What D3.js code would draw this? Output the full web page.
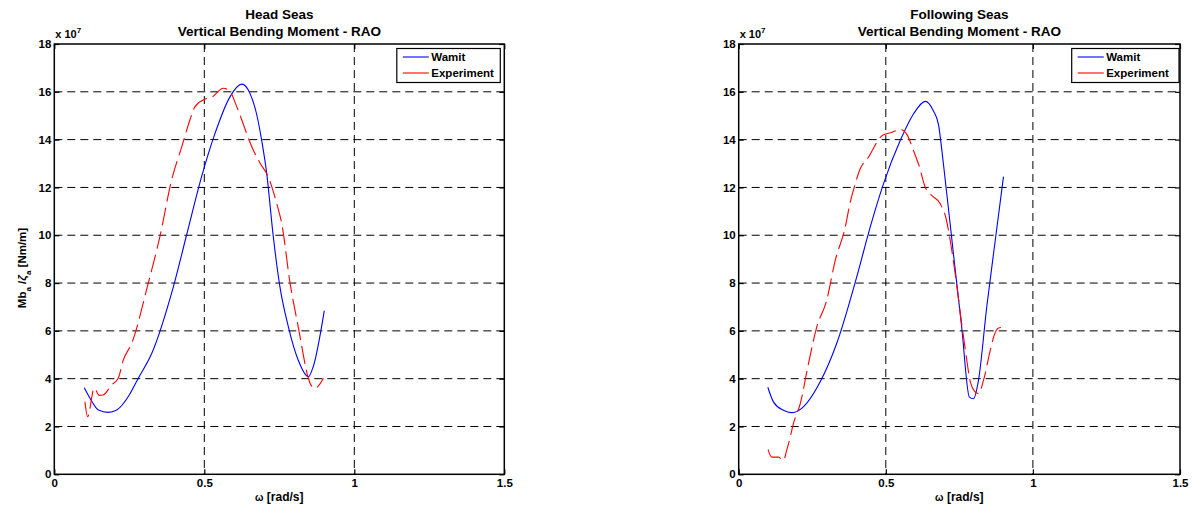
<!DOCTYPE html>
<html>
<head>
<meta charset="utf-8">
<script src="https://cdn.jsdelivr.net/npm/d3@7"></script>
<style>
  body { margin: 0; background: #fff; }
  text { font-family: "Liberation Sans", Arial, sans-serif; font-weight: bold; fill: #000; }
</style>
</head>
<body>
<svg id="chart" width="1195" height="506"></svg>
<script>
// tick values
var xTicks = [0, 0.5, 1, 1.5];
var yTicks = [0, 2, 4, 6, 8, 10, 12, 14, 16, 18];

// Head seas - Wamit
var headWamitW = [0.10, 0.119, 0.147, 0.18, 0.208, 0.25, 0.28, 0.325, 0.397, 0.441, 0.491, 0.536, 0.586, 0.625, 0.652, 0.675, 0.691, 0.708, 0.73, 0.752, 0.78, 0.813, 0.847, 0.863, 0.9];
var headWamitV = [3.62, 3.18, 2.69, 2.59, 2.69, 3.32, 4.02, 5.06, 7.85, 10.01, 12.45, 14.27, 15.8, 16.32, 15.94, 15.03, 13.99, 12.59, 9.94, 7.85, 6.18, 4.78, 4.08, 4.5, 6.85];

// Head seas - Experiment
var headExpW = [0.102, 0.111, 0.133, 0.15, 0.163, 0.191, 0.213, 0.23, 0.258, 0.313, 0.352, 0.391, 0.425, 0.452, 0.469, 0.502, 0.525, 0.563, 0.586, 0.608, 0.663, 0.686, 0.713, 0.741, 0.758, 0.786, 0.813, 0.847, 0.855, 0.87, 0.883, 0.897];
var headExpV = [3.04, 2.41, 3.6, 3.3, 3.32, 3.74, 4.02, 4.78, 5.48, 7.99, 9.94, 12.31, 13.71, 14.82, 15.38, 15.69, 15.77, 16.15, 16.01, 15.38, 13.57, 13.01, 12.45, 11.34, 10.5, 7.99, 6.18, 4.02, 3.74, 3.6, 3.74, 4.02];

// Following seas - Wamit
var followWamitW = [0.099, 0.118, 0.152, 0.18, 0.214, 0.277, 0.333, 0.401, 0.447, 0.492, 0.549, 0.594, 0.634, 0.662, 0.679, 0.696, 0.73, 0.758, 0.784, 0.798, 0.815, 0.843, 0.872, 0.9];
var followWamitV = [3.64, 3.03, 2.68, 2.58, 2.76, 3.87, 5.47, 8.25, 10.34, 12.15, 13.96, 15.07, 15.6, 15.2, 14.64, 12.97, 9.21, 6.15, 3.23, 3.16, 3.93, 6.99, 9.78, 12.45];

// Following seas - Experiment
var followExpW = [0.1, 0.112, 0.135, 0.152, 0.163, 0.175, 0.186, 0.209, 0.237, 0.265, 0.299, 0.328, 0.362, 0.379, 0.396, 0.413, 0.441, 0.46, 0.475, 0.492, 0.52, 0.549, 0.571, 0.594, 0.613, 0.634, 0.656, 0.685, 0.705, 0.719, 0.736, 0.758, 0.769, 0.789, 0.8, 0.815, 0.832, 0.855, 0.868, 0.883, 0.9];
var followExpV = [1.03, 0.72, 0.72, 0.58, 1.0, 1.56, 2.12, 2.95, 4.62, 6.15, 7.27, 8.94, 10.33, 11.38, 12.15, 12.78, 13.26, 13.68, 14.0, 14.2, 14.3, 14.43, 14.23, 13.54, 12.91, 12.01, 11.67, 11.32, 10.69, 9.78, 8.38, 6.29, 5.32, 3.79, 3.5, 3.37, 3.93, 5.18, 5.8, 6.12, 6.15];

var svg = d3.select("#chart");

function zip(w, v) {
  return w.map(function(d, i) { return {w: d, v: v[i]}; });
}

function drawPanel(p) {
  var x = d3.scaleLinear().domain([0, 1.5]).range([p.left, p.right]);
  var y = d3.scaleLinear().domain([0, 18]).range([p.bottom, p.top]);
  var g = svg.append("g");

  // grid lines (dashed)
  g.selectAll(".hgrid")
    .data(yTicks.filter(function(d) { return d > 0 && d < 18; }))
    .enter().append("line")
      .attr("x1", p.left).attr("x2", p.right)
      .attr("y1", function(d) { return y(d); })
      .attr("y2", function(d) { return y(d); })
      .attr("stroke", "#000").attr("stroke-width", 1)
      .attr("stroke-dasharray", "8,5");
  g.selectAll(".vgrid")
    .data(xTicks.filter(function(d) { return d > 0 && d < 1.5; }))
    .enter().append("line")
      .attr("x1", function(d) { return x(d); })
      .attr("x2", function(d) { return x(d); })
      .attr("y1", p.top).attr("y2", p.bottom)
      .attr("stroke", "#000").attr("stroke-width", 1)
      .attr("stroke-dasharray", "8,5");

  // axes, ticks inside, matlab style box
  var ax = g.append("g").attr("transform", "translate(0," + p.bottom + ")")
    .call(d3.axisBottom(x).tickValues(xTicks).tickSize(-5).tickPadding(9).tickFormat(d3.format("")));
  var ay = g.append("g").attr("transform", "translate(" + p.left + ",0)")
    .call(d3.axisLeft(y).tickValues(yTicks).tickSize(-5).tickPadding(3));
  g.append("g").attr("transform", "translate(0," + p.top + ")")
    .call(d3.axisTop(x).tickValues(xTicks).tickSize(-5).tickFormat(""));
  g.append("g").attr("transform", "translate(" + p.right + ",0)")
    .call(d3.axisRight(y).tickValues(yTicks).tickSize(-5).tickFormat(""));
  g.selectAll(".domain").remove();
  g.selectAll(".tick line").attr("stroke", "#000").attr("stroke-width", 1.2);
  g.selectAll(".tick text").style("font-size", "11.5px").style("font-weight", "bold")
    .style("font-family", "'Liberation Sans', Arial, sans-serif");
  ax.selectAll(".tick text").attr("dy", "0.35em");
  ay.selectAll(".tick text").attr("x", -3);

  g.append("rect")
    .attr("x", p.left).attr("y", p.top)
    .attr("width", p.right - p.left).attr("height", p.bottom - p.top)
    .attr("fill", "none").attr("stroke", "#000").attr("stroke-width", 1.5);

  // exponent label
  var ex = g.append("text").attr("x", p.left + 1).attr("y", 38).style("font-size", "11px");
  ex.append("tspan").text("x 10");
  ex.append("tspan").attr("dy", -5).style("font-size", "8px").text("7");

  // curves
  var line = d3.line()
    .x(function(d) { return x(d.w); })
    .y(function(d) { return y(d.v); })
    .curve(d3.curveMonotoneX);
  g.append("path").datum(zip(p.wamitW, p.wamitV))
    .attr("fill", "none").attr("stroke", "#0000ff").attr("stroke-width", 1.1)
    .attr("d", line);
  g.append("path").datum(zip(p.expW, p.expV))
    .attr("fill", "none").attr("stroke", "#ff0000").attr("stroke-width", 1.1)
    .attr("stroke-dasharray", "18,6")
    .attr("d", line);

  // title
  var cx = (p.left + p.right) / 2;
  g.append("text").attr("x", cx).attr("y", 18.5).attr("text-anchor", "middle")
    .style("font-size", "13.5px").text(p.title);
  g.append("text").attr("x", cx).attr("y", 35.5).attr("text-anchor", "middle")
    .style("font-size", "13.5px").text("Vertical Bending Moment - RAO");

  // x label
  var xl = g.append("text").attr("x", cx).attr("y", 501).attr("text-anchor", "middle")
    .style("font-size", "12px");
  xl.append("tspan").style("font-size", "10px").text("ω");
  xl.append("tspan").text(" [rad/s]");

  // legend
  var lx = p.legendRight - p.legendWidth, ly = 48.5;
  var leg = g.append("g");
  leg.append("rect").attr("x", lx).attr("y", ly).attr("width", p.legendWidth).attr("height", 34)
    .attr("fill", "#fff").attr("stroke", "#000").attr("stroke-width", 1.2);
  [["Wamit", "#0000ff"], ["Experiment", "#ff0000"]].forEach(function(s, i) {
    var yy = ly + 8.5 + i * 16;
    leg.append("line").attr("x1", lx + 6).attr("x2", lx + 32).attr("y1", yy).attr("y2", yy)
      .attr("stroke", s[1]).attr("stroke-width", 1.1);
    leg.append("text").attr("x", lx + 34.5).attr("y", yy + 4).style("font-size", "11.5px").text(s[0]);
  });

  return g;
}

var left = drawPanel({
  left: 54.3, right: 504.3, top: 44, bottom: 474.3,
  title: "Head Seas",
  wamitW: headWamitW, wamitV: headWamitV, expW: headExpW, expV: headExpV,
  legendRight: 500.3, legendWidth: 103.5
});

drawPanel({
  left: 738.7, right: 1180, top: 44, bottom: 474.3,
  title: "Following Seas",
  wamitW: followWamitW, wamitV: followWamitV, expW: followExpW, expV: followExpV,
  legendRight: 1179, legendWidth: 107.3
});

// y label on left panel only
var yl = left.append("text")
  .attr("transform", "translate(26,268) rotate(-90)")
  .attr("text-anchor", "middle").style("font-size", "11.5px");
yl.append("tspan").text("Mb");
yl.append("tspan").attr("baseline-shift", "sub").style("font-size", "8px").text("a");
yl.append("tspan").text(" /");
yl.append("tspan").style("font-style", "italic").text("ζ");
yl.append("tspan").attr("baseline-shift", "sub").style("font-size", "8px").text("a");
yl.append("tspan").text(" [Nm/m]");
</script>
</body>
</html>
